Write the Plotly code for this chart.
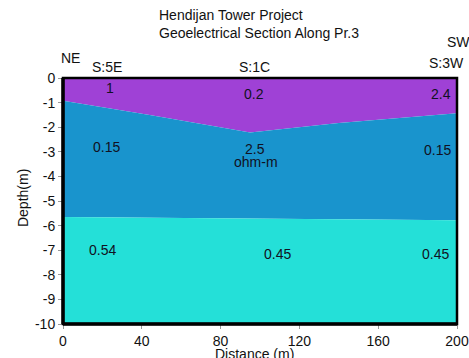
import plotly.graph_objects as go

# Layer boundaries (distance m, depth m)
b1_x = [0, 44, 95, 140, 200]
b1_y = [-0.92, -1.5, -2.22, -1.83, -1.43]
b2_x = [0, 200]
b2_y = [-5.65, -5.78]
top_x = [0, 200]
top_y = [0, 0]
bot_x = [0, 200]
bot_y = [-10, -10]

layer_colors = ["#9f41d6", "#1994cd", "#24e0d8"]

# Resistivity labels
res_text = ["1", "0.2", "2.4", "0.15", "2.5", "ohm-m", "0.15", "0.54", "0.45", "0.45"]
res_x = [24, 97, 192, 22, 97.5, 98, 190, 20, 109, 189]
res_y = [-0.4, -0.65, -0.65, -2.8, -2.9, -3.42, -2.93, -7.0, -7.15, -7.15]

# Station labels (positions as fractions of the plot area)
st_text = ["NE", "S:5E", "S:1C", "S:3W", "SW"]
st_px = [0.0203, 0.1117, 0.4873, 0.9746, 1.005]
st_py = [1.081, 1.0447, 1.0447, 1.061, 1.146]

x_ticks = [0, 40, 80, 120, 160, 200]
y_ticks = [0, -1, -2, -3, -4, -5, -6, -7, -8, -9, -10]
y_ticktext = [str(v) for v in y_ticks]

FONT = "Liberation Sans, Arial, sans-serif"
TXT = "#111122"

fig = go.Figure()
fig.add_trace(go.Scatter(x=top_x, y=top_y, mode="lines", line=dict(width=0), hoverinfo="skip", showlegend=False))
fig.add_trace(go.Scatter(x=b1_x, y=b1_y, mode="lines", line=dict(width=0), fill="tonexty",
                         fillcolor=layer_colors[0], hoverinfo="skip", showlegend=False))
fig.add_trace(go.Scatter(x=b2_x, y=b2_y, mode="lines", line=dict(width=0), fill="tonexty",
                         fillcolor=layer_colors[1], hoverinfo="skip", showlegend=False))
fig.add_trace(go.Scatter(x=bot_x, y=bot_y, mode="lines", line=dict(width=0), fill="tonexty",
                         fillcolor=layer_colors[2], hoverinfo="skip", showlegend=False))

for t, x, y in zip(res_text, res_x, res_y):
    fig.add_annotation(x=x, y=y, text=t, showarrow=False, xanchor="center", yanchor="middle",
                       font=dict(size=14, color=TXT, family=FONT))

for t, x, y in zip(st_text, st_px, st_py):
    fig.add_annotation(xref="paper", yref="paper", x=x, y=y, text=t, showarrow=False,
                       xanchor="center", yanchor="middle",
                       font=dict(size=14, color="#111", family=FONT))

fig.add_annotation(xref="paper", yref="paper", x=0.2386, y=1.256, xanchor="left", yanchor="middle",
                   text="Hendijan Tower Project", showarrow=False, font=dict(size=14, color="#111", family=FONT))
fig.add_annotation(xref="paper", yref="paper", x=0.2386, y=1.183, xanchor="left", yanchor="middle",
                   text="Geoelectrical Section Along Pr.3", showarrow=False, font=dict(size=14, color="#111", family=FONT))
fig.add_annotation(xref="paper", yref="paper", x=-0.1015, y=0.512, textangle=-90,
                   xanchor="center", yanchor="middle",
                   text="Depth(m)", showarrow=False, font=dict(size=14, color="#111", family=FONT))
fig.add_annotation(xref="paper", yref="paper", x=0.485, y=-0.081, xanchor="center", yanchor="top",
                   text="Distance (m)", showarrow=False, font=dict(size=14, color="#111", family=FONT))

# frame
fig.add_shape(type="rect", xref="paper", yref="paper", x0=0, x1=1, y0=0, y1=1, layer="above",
              line=dict(color="#000000", width=2.5), fillcolor="rgba(0,0,0,0)")
fig.add_shape(type="line", xref="paper", yref="paper", x0=0, x1=0, y0=0, y1=1, layer="above",
              line=dict(color="#000000", width=3.5))
fig.add_shape(type="line", xref="paper", yref="paper", x0=0, x1=1, y0=0, y1=0, layer="above",
              line=dict(color="#000000", width=3.5))

fig.update_layout(
    width=469, height=358,
    margin=dict(l=63, r=12, t=78, b=34, autoexpand=False),
    paper_bgcolor="white", plot_bgcolor="white",
    font=dict(family=FONT, size=14, color="#111"),
    xaxis=dict(range=[0, 200], tickvals=x_ticks, ticktext=[str(v) for v in x_ticks],
               showgrid=False, zeroline=False, ticks="outside", ticklen=4, tickcolor="#999",
               showline=False, automargin=False,
               tickfont=dict(size=14, color="#111")),
    yaxis=dict(range=[-10, 0], tickvals=y_ticks, ticktext=y_ticktext,
               showgrid=False, zeroline=False, ticks="outside", ticklen=4, tickcolor="#999",
               showline=False, automargin=False,
               tickfont=dict(size=14, color="#111")),
)

fig.write_html("out.html")
